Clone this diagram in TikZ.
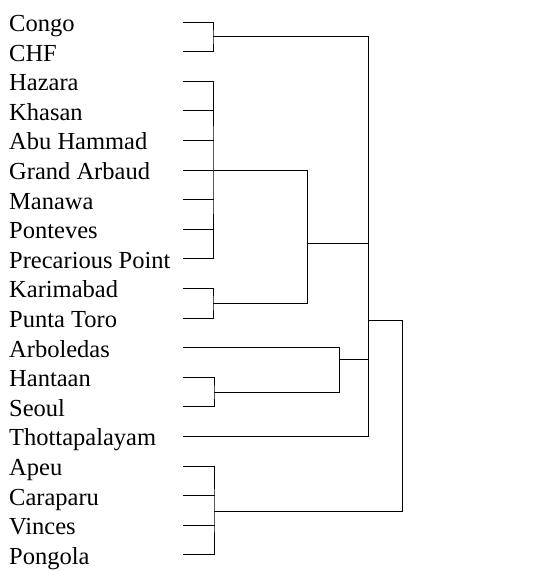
\documentclass[tikz,border=0pt]{standalone}
\usepackage{fontspec}
\setmainfont{Liberation Serif}
\begin{document}
\begin{tikzpicture}[x=1pt,y=-1pt,
  leaf/.style={anchor=base west,inner sep=0pt,font=\fontsize{24.5}{28}\selectfont},
  tree/.style={line width=1pt,line cap=rect,line join=miter}]
\useasboundingbox (0,0) rectangle (545,571);
% leaves
\foreach \i/\n/\t in {0/congo/Congo,1/chf/CHF,2/hazara/Hazara,3/khasan/Khasan,4/abu/Abu Hammad,5/grand/Grand Arbaud,6/manawa/Manawa,7/ponteves/Ponteves,8/precarious/Precarious Point,9/karimabad/Karimabad,10/punta/Punta Toro,11/arboledas/Arboledas,12/hantaan/Hantaan,13/seoul/Seoul,14/thotta/Thottapalayam,15/apeu/Apeu,16/caraparu/Caraparu,17/vinces/Vinces,18/pongola/Pongola}{
  \pgfmathsetmacro\yy{22+29.6*\i}
  \node[leaf] (\n) at (9,\yy+9.5) {\t};
  \coordinate (\n-e) at (183,\yy);
}
% junction coordinates
\coordinate (A) at (213,36.8);
\coordinate (B) at (213,170);
\coordinate (C) at (213,303.2);
\coordinate (D) at (307,243);
\coordinate (E) at (214,392);
\coordinate (F) at (339,359);
\coordinate (G) at (368,320);
\coordinate (H) at (214,511);
\coordinate (I) at (402,511);
% Congo / CHF
\draw[tree] (congo-e) -| (A) |- (chf-e);
% Hazara group
\draw[tree] (hazara-e) -| (B) |- (precarious-e);
\foreach \n in {khasan,abu,manawa,ponteves}{\draw[tree] (\n-e) -- (\n-e -| B);}
\draw[tree] (grand-e) -- (grand-e -| D);
% Karimabad / Punta Toro
\draw[tree] (karimabad-e) -| (C) |- (punta-e);
\draw[tree] (C) -- (C -| D);
% join of Hazara group and Karimabad pair
\draw[tree] (grand-e -| D) -- (C -| D);
\draw[tree] (D) -- (D -| G);
% Hantaan / Seoul
\draw[tree] (hantaan-e) -| (E) |- (seoul-e);
\draw[tree] (E) -- (E -| F);
\draw[tree] (arboledas-e) -- (arboledas-e -| F) -- (E -| F);
\draw[tree] (F) -- (F -| G);
% main vertical
\draw[tree] (A) -- (A -| G) -- (thotta-e -| G) -- (thotta-e);
\draw[tree] (G) -- (G -| I);
% Apeu group
\draw[tree] (apeu-e) -| (H) |- (pongola-e);
\foreach \n in {caraparu,vinces}{\draw[tree] (\n-e) -- (\n-e -| H);}
\draw[tree] (H) -- (I);
\draw[tree] (G -| I) -- (I);
\end{tikzpicture}
\end{document}
